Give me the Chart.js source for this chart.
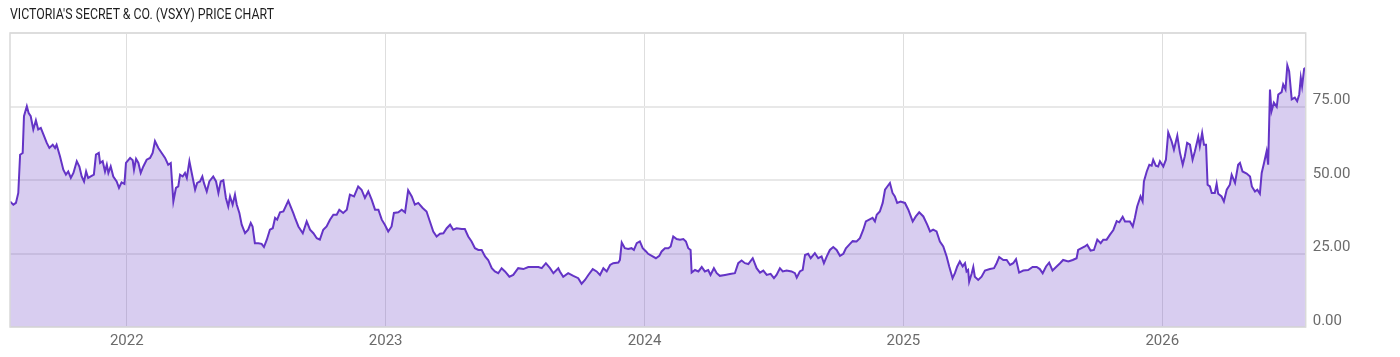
<!DOCTYPE html>
<html>
<head>
<meta charset="utf-8">
<title>VSXY price chart</title>
<script src="https://cdn.jsdelivr.net/npm/chart.js@4/dist/chart.umd.min.js"></script>
<style>
  html, body { margin: 0; padding: 0; background: #fff; }
  #wrap { position: relative; width: 1400px; height: 357px; }
  #title {
    position: absolute; left: 10px; top: 6px;
    font-family: 'Roboto', sans-serif;
    font-size: 14px; line-height: 16px; color: #1e1e1e;
    white-space: nowrap;
    transform: scaleX(0.88); transform-origin: left top;
  }
</style>
</head>
<body>
<div id="wrap">
  <div id="title">VICTORIA'S SECRET &amp; CO. (VSXY) PRICE CHART</div>
  <canvas id="chart"></canvas>
</div>
<script>
// --- trading dates as decimal years ---
const tradeYears = [
  2021.549, 2021.562, 2021.572, 2021.581, 2021.588, 2021.598, 2021.603, 2021.614, 2021.621, 2021.629,
  2021.639, 2021.649, 2021.658, 2021.668, 2021.678, 2021.691, 2021.701, 2021.714, 2021.723, 2021.729,
  2021.742, 2021.755, 2021.765, 2021.774, 2021.784, 2021.794, 2021.807, 2021.817, 2021.826, 2021.835,
  2021.843, 2021.851, 2021.861, 2021.873, 2021.881, 2021.892, 2021.897, 2021.907, 2021.916, 2021.923,
  2021.929, 2021.938, 2021.948, 2021.961, 2021.970, 2021.980, 2021.991, 2021.997, 2022.013, 2022.023,
  2022.028, 2022.036, 2022.045, 2022.054, 2022.064, 2022.077, 2022.090, 2022.100, 2022.109, 2022.122,
  2022.135, 2022.148, 2022.160, 2022.170, 2022.180, 2022.190, 2022.199, 2022.206, 2022.216, 2022.225,
  2022.232, 2022.242, 2022.251, 2022.264, 2022.272, 2022.283, 2022.292, 2022.298, 2022.309, 2022.319,
  2022.334, 2022.345, 2022.354, 2022.363, 2022.373, 2022.383, 2022.392, 2022.399, 2022.409, 2022.418,
  2022.425, 2022.435, 2022.444, 2022.457, 2022.469, 2022.479, 2022.486, 2022.495, 2022.508, 2022.521,
  2022.530, 2022.541, 2022.553, 2022.564, 2022.573, 2022.581, 2022.592, 2022.605, 2022.624, 2022.643,
  2022.650, 2022.663, 2022.680, 2022.695, 2022.708, 2022.721, 2022.734, 2022.746, 2022.759, 2022.772,
  2022.785, 2022.798, 2022.811, 2022.821, 2022.836, 2022.850, 2022.862, 2022.878, 2022.894, 2022.907,
  2022.920, 2022.933, 2022.946, 2022.959, 2022.972, 2022.985, 2022.997, 2023.010, 2023.023, 2023.032,
  2023.049, 2023.062, 2023.075, 2023.087, 2023.101, 2023.113, 2023.126, 2023.143, 2023.158, 2023.171,
  2023.184, 2023.197, 2023.210, 2023.223, 2023.236, 2023.249, 2023.261, 2023.274, 2023.294, 2023.306,
  2023.319, 2023.332, 2023.345, 2023.358, 2023.371, 2023.384, 2023.396, 2023.410, 2023.422, 2023.435,
  2023.448, 2023.461, 2023.478, 2023.493, 2023.512, 2023.532, 2023.551, 2023.570, 2023.590, 2023.603,
  2023.619, 2023.635, 2023.648, 2023.667, 2023.673, 2023.686, 2023.705, 2023.725, 2023.744, 2023.757,
  2023.770, 2023.783, 2023.800, 2023.815, 2023.828, 2023.841, 2023.854, 2023.867, 2023.879, 2023.899,
  2023.905, 2023.912, 2023.924, 2023.937, 2023.950, 2023.959, 2023.970, 2023.982, 2023.993, 2024.006,
  2024.014, 2024.028, 2024.044, 2024.057, 2024.066, 2024.079, 2024.092, 2024.101, 2024.111, 2024.124,
  2024.137, 2024.150, 2024.160, 2024.169, 2024.178, 2024.182, 2024.195, 2024.208, 2024.221, 2024.233,
  2024.246, 2024.255, 2024.268, 2024.279, 2024.291, 2024.311, 2024.330, 2024.349, 2024.362, 2024.375,
  2024.388, 2024.401, 2024.418, 2024.433, 2024.446, 2024.459, 2024.472, 2024.487, 2024.500, 2024.510,
  2024.523, 2024.534, 2024.549, 2024.568, 2024.581, 2024.588, 2024.600, 2024.611, 2024.620, 2024.632,
  2024.642, 2024.658, 2024.671, 2024.684, 2024.693, 2024.704, 2024.716, 2024.729, 2024.742, 2024.755,
  2024.768, 2024.778, 2024.791, 2024.804, 2024.819, 2024.832, 2024.845, 2024.855, 2024.868, 2024.881,
  2024.890, 2024.897, 2024.909, 2024.920, 2024.929, 2024.938, 2024.948, 2024.958, 2024.967, 2024.976,
  2024.989, 2025.006, 2025.019, 2025.036, 2025.048, 2025.061, 2025.077, 2025.092, 2025.103, 2025.115,
  2025.128, 2025.141, 2025.154, 2025.167, 2025.177, 2025.190, 2025.199, 2025.208, 2025.218, 2025.229,
  2025.238, 2025.244, 2025.250, 2025.254, 2025.264, 2025.270, 2025.276, 2025.289, 2025.302, 2025.315,
  2025.334, 2025.350, 2025.360, 2025.370, 2025.386, 2025.399, 2025.412, 2025.424, 2025.435, 2025.447,
  2025.463, 2025.482, 2025.499, 2025.515, 2025.527, 2025.538, 2025.551, 2025.563, 2025.576, 2025.592,
  2025.605, 2025.617, 2025.637, 2025.654, 2025.669, 2025.675, 2025.688, 2025.701, 2025.710, 2025.723,
  2025.736, 2025.749, 2025.762, 2025.772, 2025.785, 2025.798, 2025.811, 2025.824, 2025.834, 2025.847,
  2025.856, 2025.875, 2025.886, 2025.894, 2025.903, 2025.916, 2025.924, 2025.929, 2025.940, 2025.950,
  2025.959, 2025.965, 2025.975, 2025.984, 2025.991, 2026.004, 2026.014, 2026.023, 2026.036, 2026.045,
  2026.058, 2026.068, 2026.079, 2026.087, 2026.096, 2026.107, 2026.117, 2026.126, 2026.139, 2026.145,
  2026.154, 2026.161, 2026.169, 2026.175, 2026.184, 2026.191, 2026.203, 2026.210, 2026.216, 2026.229,
  2026.238, 2026.249, 2026.261, 2026.268, 2026.281, 2026.293, 2026.300, 2026.310, 2026.326, 2026.339,
  2026.346, 2026.358, 2026.367, 2026.377, 2026.384, 2026.393, 2026.403, 2026.409, 2026.416, 2026.422,
  2026.431, 2026.442, 2026.448, 2026.461, 2026.467, 2026.476, 2026.483, 2026.490, 2026.500, 2026.512,
  2026.521, 2026.529, 2026.535, 2026.540, 2026.548, 2026.554
];

// --- closing prices (USD) ---
const closePrices = [
  42.7, 41.6, 42.2, 45.6, 58.6, 59.2, 71.7, 75.1, 72.8, 71.7,
  67.2, 70.3, 67.2, 67.7, 65.5, 62.6, 60.9, 62.0, 60.9, 62.0,
  58.1, 53.5, 51.8, 52.9, 50.7, 52.4, 56.4, 54.6, 51.2, 49.5,
  52.9, 50.7, 51.2, 51.8, 58.6, 59.2, 55.8, 56.4, 52.9, 55.2,
  52.4, 54.6, 51.2, 49.5, 47.3, 49.2, 48.7, 55.8, 57.5, 56.7,
  53.5, 57.2, 55.8, 52.4, 54.6, 56.9, 57.5, 59.2, 63.2, 60.9,
  59.2, 57.5, 55.2, 55.8, 42.7, 47.3, 47.8, 51.8, 51.2, 52.4,
  50.7, 56.4, 52.4, 46.7, 49.0, 49.5, 51.2, 49.0, 46.1, 49.5,
  51.2, 49.5, 45.6, 49.5, 49.9, 43.9, 41.0, 44.4, 41.6, 45.0,
  41.6, 38.8, 34.8, 31.9, 33.1, 35.4, 34.2, 28.5, 28.5, 28.3,
  27.2, 29.7, 33.1, 33.6, 37.1, 36.5, 39.0, 39.3, 42.9, 38.8,
  37.1, 34.2, 31.9, 35.9, 33.1, 31.9, 30.2, 29.7, 33.1, 34.2,
  36.5, 38.2, 38.2, 39.9, 38.8, 39.9, 45.0, 44.4, 47.8, 46.7,
  43.9, 46.1, 43.3, 39.9, 39.9, 36.5, 34.8, 32.5, 34.2, 38.8,
  39.0, 39.9, 39.0, 46.5, 44.4, 41.6, 42.2, 40.5, 39.3, 35.9,
  32.5, 30.8, 31.7, 31.9, 33.6, 34.8, 33.1, 33.6, 33.3, 33.3,
  30.8, 29.1, 26.8, 26.2, 26.2, 24.0, 22.8, 20.0, 18.9, 18.3,
  20.0, 18.9, 17.1, 17.7, 20.0, 19.7, 20.4, 20.4, 20.4, 20.0,
  21.7, 20.0, 18.3, 20.0, 18.9, 17.1, 18.3, 17.4, 16.6, 14.7,
  16.0, 17.7, 19.7, 18.9, 17.7, 20.0, 18.9, 21.1, 21.7, 21.9,
  22.8, 28.7, 26.8, 26.5, 26.8, 26.2, 28.5, 29.1, 26.8, 25.7,
  24.9, 24.2, 23.4, 24.2, 25.7, 26.8, 26.8, 27.4, 30.8, 29.9,
  29.7, 29.9, 29.1, 26.8, 26.2, 18.5, 19.4, 18.9, 20.4, 18.9,
  19.4, 17.7, 20.0, 18.3, 17.4, 17.7, 18.0, 18.3, 21.7, 22.6,
  21.7, 21.4, 23.4, 20.0, 18.5, 19.2, 17.7, 18.1, 16.6, 17.7,
  20.0, 18.9, 19.2, 18.9, 18.3, 16.8, 18.9, 19.4, 24.5, 24.9,
  23.4, 25.1, 23.4, 24.0, 21.7, 24.0, 26.2, 27.2, 26.2, 24.2,
  24.9, 26.8, 28.0, 29.2, 29.1, 30.2, 33.1, 35.9, 36.5, 37.1,
  35.9, 38.2, 39.3, 42.2, 46.7, 47.8, 49.0, 45.6, 44.4, 42.2,
  42.7, 42.2, 39.9, 35.9, 37.6, 39.0, 37.6, 34.8, 32.5, 33.1,
  32.5, 29.1, 27.4, 24.0, 20.6, 16.6, 18.3, 20.6, 22.3, 20.6,
  21.7, 18.9, 19.4, 15.4, 18.3, 20.4, 17.1, 16.0, 17.1, 19.2,
  19.7, 20.0, 21.7, 23.8, 22.8, 22.8, 21.1, 21.7, 23.1, 18.5,
  19.2, 19.4, 20.4, 20.4, 19.7, 18.3, 20.6, 21.9, 19.2, 20.6,
  21.7, 22.8, 22.3, 22.8, 23.4, 26.2, 26.8, 27.4, 28.0, 26.0,
  26.2, 29.7, 28.5, 29.7, 29.7, 31.4, 33.0, 36.0, 35.6, 37.5,
  35.9, 35.9, 34.2, 37.1, 41.0, 44.4, 42.7, 49.5, 52.9, 55.2,
  54.9, 56.9, 54.9, 54.6, 56.4, 54.6, 56.9, 66.2, 63.2, 60.3,
  65.1, 59.4, 55.2, 58.1, 62.6, 62.0, 56.9, 59.8, 64.7, 61.5,
  66.0, 62.0, 62.0, 48.4, 47.8, 45.6, 45.6, 48.7, 45.3, 44.4,
  42.7, 46.7, 48.4, 51.8, 49.0, 55.2, 55.8, 52.9, 52.2, 51.2,
  47.8, 46.1, 46.7, 45.3, 52.4, 55.8, 59.8, 55.2, 80.8, 73.4,
  76.3, 74.9, 79.1, 79.9, 82.5, 80.8, 89.0, 87.0, 77.4, 78.0,
  76.8, 79.1, 84.8, 81.9, 87.8, 88.2
];

// --- axis ticks ---
const yearTicks = [2022, 2023, 2024, 2025, 2026];
const yearTickLabels = ['2022', '2023', '2024', '2025', '2026'];
const priceTicks = [0, 25, 50, 75, 100];
const priceTickLabels = ['0.00', '25.00', '50.00', '75.00', ''];

const xRange = [2021.549, 2026.554];

const points = tradeYears.map((t, i) => ({ x: t, y: closePrices[i] }));

const labelFont = { family: "'Roboto', sans-serif", size: 15 };

// box around the plot area
const frame = {
  id: 'frame',
  afterDraw(chart) {
    const { ctx, chartArea: a } = chart;
    ctx.save();
    ctx.strokeStyle = '#d9d9d9';
    ctx.lineWidth = 1.5;
    ctx.strokeRect(a.left, a.top, a.right - a.left, a.bottom - a.top);
    ctx.restore();
  }
};

new Chart(document.getElementById('chart'), {
  type: 'line',
  data: {
    datasets: [{
      label: 'VSXY',
      data: points,
      borderColor: '#6434c6',
      borderWidth: 2,
      backgroundColor: 'rgba(112,70,200,0.27)',
      fill: 'origin',
      pointRadius: 0,
      tension: 0,
    }]
  },
  options: {
    responsive: true,
    maintainAspectRatio: false,
    animation: false,
    layout: { padding: { left: 10, top: 33, right: 0, bottom: 0 } },
    plugins: {
      legend: { display: false },
      tooltip: { enabled: false },
    },
    scales: {
      x: {
        type: 'linear',
        min: xRange[0],
        max: xRange[1],
        afterBuildTicks: s => { s.ticks = yearTicks.map(v => ({ value: v })); },
        afterFit: s => { s.height = 30; },
        ticks: {
          autoSkip: false,
          maxRotation: 0,
          padding: 5,
          color: '#6b6b6b',
          font: labelFont,
          callback: v => yearTickLabels[yearTicks.indexOf(v)],
        },
        grid: { color: '#dedede', lineWidth: 1, drawTicks: false },
        border: { display: false },
      },
      y: {
        position: 'right',
        min: 0,
        max: 100,
        afterBuildTicks: s => { s.ticks = priceTicks.map(v => ({ value: v })); },
        afterFit: s => { s.width = 94.3; },
        ticks: {
          padding: 7,
          labelOffset: -6,
          color: '#6b6b6b',
          font: labelFont,
          callback: v => priceTickLabels[priceTicks.indexOf(v)],
        },
        grid: { color: '#e8e8e8', lineWidth: 2, drawTicks: false },
        border: { display: false },
      }
    }
  },
  plugins: [frame]
});
</script>
</body>
</html>
